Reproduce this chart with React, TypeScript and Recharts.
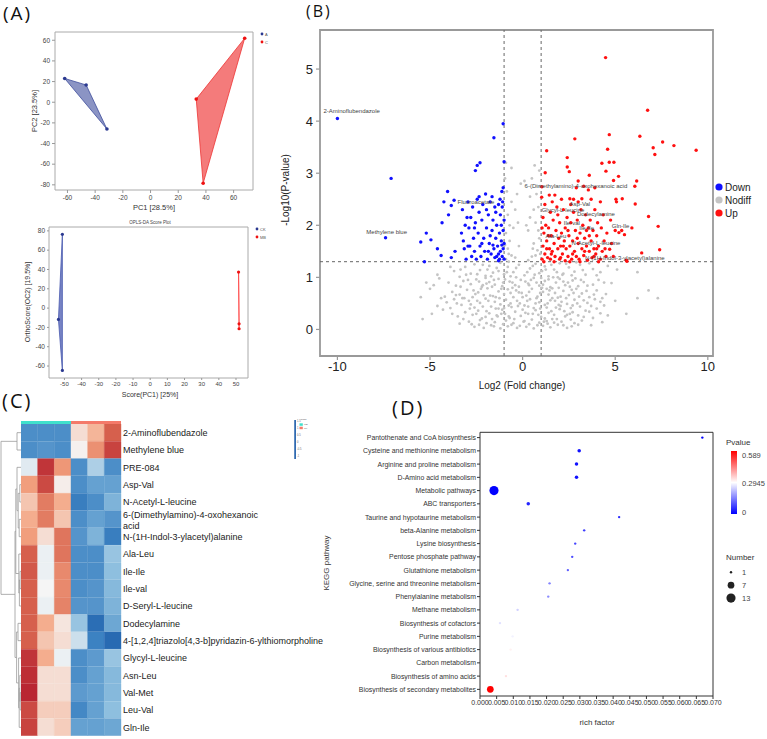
import React from "react";
import {
  ScatterChart,
  Scatter,
  XAxis,
  YAxis,
  ReferenceArea,
  ReferenceLine,
  BarChart,
  Bar,
  Cell,
  ZAxis,
} from "recharts";

const FONT = "'Liberation Sans', Arial, sans-serif";

// ---------- (A) PCA / OPLS-DA scores ----------
const pcaA = [
  { x: -62, y: 23 },
  { x: -46.5, y: 16.7 },
  { x: -31.5, y: -26 },
];
const pcaC = [
  { x: 33, y: 3 },
  { x: 38, y: -78.5 },
  { x: 68, y: 62 },
];
const oplsCK = [
  { x: -51.2, y: 76.4 },
  { x: -53.5, y: -11.7 },
  { x: -51.2, y: -64.6 },
];
const oplsMB = [
  { x: 51.5, y: 37.3 },
  { x: 51.8, y: -16.3 },
  { x: 51.8, y: -21.4 },
];
const pcaXTicks = [-60, -40, -20, 0, 20, 40, 60];
const pcaYTicks = [-80, -60, -40, -20, 0, 20, 40, 60];
const oplsXTicks = [-50, -40, -30, -20, -10, 0, 10, 20, 30, 40, 50];
const oplsYTicks = [-60, -40, -20, 0, 20, 40, 60, 80];

// ---------- (B) volcano: [log2FC, -log10 p] ----------
const downPts: number[][] = [
  [-10, 4.05], [-7.1, 2.9], [-7.4, 1.76], [-5.3, 1.3], [-5.5, 1.68], [-5.2, 1.85], [-4.95, 1.72],
  [-4.6, 1.55], [-4.4, 1.42], [-4.35, 2.05], [-4.25, 2.45], [-4.05, 2.65], [-4.0, 2.2], [-3.85, 1.38],
  [-3.85, 2.38], [-3.7, 2.48], [-3.65, 1.5], [-2.55, 3.05], [-2.45, 3.15], [-2.3, 3.2], [-1.55, 3.68],
  [-1.05, 3.95], [-1.0, 3.22], [-1.05, 2.72], [-1.12, 2.65],
  [-3.3, 1.85], [-3.25, 2.3], [-3.2, 1.7], [-3.15, 1.55], [-3.1, 2.0], [-3.05, 1.35], [-2.95, 2.45],
  [-2.9, 1.95], [-2.85, 1.6], [-2.8, 2.15], [-2.75, 1.4], [-2.7, 2.35], [-2.65, 1.75], [-2.6, 1.5],
  [-2.55, 2.05], [-2.5, 1.35], [-2.45, 2.5], [-2.4, 1.85], [-2.35, 2.25], [-2.3, 1.6], [-2.25, 1.4],
  [-2.2, 2.1], [-2.15, 2.4], [-2.1, 1.75], [-2.05, 1.5], [-2.0, 2.6], [-1.95, 1.95], [-1.9, 1.35],
  [-1.85, 2.2], [-1.8, 1.65], [-1.75, 2.45], [-1.7, 1.45], [-1.65, 1.9], [-1.6, 2.1], [-1.55, 1.55],
  [-1.5, 2.35], [-1.45, 1.75], [-1.4, 1.4], [-1.4, 2.0], [-1.35, 1.6], [-1.3, 2.4], [-1.3, 1.32],
  [-1.25, 1.85], [-1.2, 2.2], [-1.2, 1.5], [-1.15, 1.7], [-1.15, 2.0], [-1.1, 1.4], [-1.1, 2.35],
  [-1.05, 1.55], [-1.05, 1.9], [-1.0, 1.35], [-1.0, 2.1], [-1.0, 1.65], [-1.08, 2.45], [-1.3, 1.45],
  [-1.5, 1.38], [-1.6, 1.62], [-1.75, 1.8], [-1.95, 2.3], [-2.6, 1.95], [-2.95, 1.6], [-3.0, 2.15],
  [-2.2, 1.65], [-1.85, 1.5], [-1.45, 2.25], [-1.25, 1.35], [-1.12, 1.62], [-1.22, 2.5], [-1.65, 2.55],
  [-2.35, 2.55],
];
const upPts: number[][] = [
  [4.48, 5.22], [6.75, 4.21], [2.82, 3.66], [4.68, 3.74], [6.33, 3.71], [7.56, 3.6], [7.05, 3.49],
  [8.17, 3.53], [9.37, 3.44], [4.59, 3.46], [7.14, 3.36], [2.41, 3.3], [2.41, 3.12], [4.28, 3.19],
  [4.68, 3.21], [4.93, 3.21], [1.3, 3.43], [2.52, 3.03], [1.22, 3.01], [3.6, 2.96], [4.5, 3.04],
  [5.18, 2.94], [3.0, 2.85], [4.91, 2.86], [6.16, 2.85], [6.06, 2.75], [2.9, 2.72], [3.3, 2.75],
  [3.55, 2.68], [3.9, 2.72], [1.04, 2.74], [1.03, 2.54], [1.44, 2.58], [1.74, 2.58], [2.55, 2.51],
  [2.75, 2.5], [3.2, 2.51], [5.04, 2.5], [5.38, 2.51], [5.07, 2.45], [6.08, 2.41], [6.8, 2.17],
  [7.32, 1.98], [5.9, 1.95], [7.4, 1.53], [6.43, 1.47], [5.63, 1.31], [5.2, 1.86], [5.35, 1.9],
  [5.5, 1.82], [4.7, 1.54], [5.6, 1.33],
  [1.05, 1.35], [1.1, 1.6], [1.1, 2.15], [1.15, 1.85], [1.2, 1.45], [1.25, 2.0], [1.3, 1.7],
  [1.35, 1.38], [1.4, 1.95], [1.45, 1.55], [1.5, 2.25], [1.5, 1.35], [1.55, 1.8], [1.6, 1.5],
  [1.65, 2.1], [1.7, 1.65], [1.75, 1.4], [1.8, 1.9], [1.85, 2.35], [1.9, 1.55], [1.95, 1.75],
  [2.0, 1.35], [2.0, 2.05], [2.05, 1.6], [2.1, 1.85], [2.15, 1.45], [2.2, 2.3], [2.25, 1.7],
  [2.3, 1.32], [2.3, 1.95], [2.35, 1.55], [2.4, 2.15], [2.45, 1.4], [2.5, 1.8], [2.55, 1.6],
  [2.6, 2.05], [2.65, 1.35], [2.7, 1.7], [2.75, 2.25], [2.8, 1.5], [2.85, 1.9], [2.9, 1.4],
  [2.95, 2.1], [3.0, 1.65], [3.05, 1.35], [3.1, 1.85], [3.15, 2.3], [3.2, 1.55], [3.25, 2.0],
  [3.3, 1.42], [3.35, 1.75], [3.4, 2.2], [3.45, 1.6], [3.5, 1.33], [3.55, 1.95], [3.6, 1.5],
  [3.65, 2.1], [3.7, 1.7], [3.75, 1.38], [3.8, 1.9], [3.85, 1.55], [3.9, 2.3], [3.95, 1.45],
  [4.0, 1.8], [4.05, 2.05], [4.1, 1.6], [4.2, 1.35], [4.25, 1.95], [4.3, 1.5], [4.35, 2.2],
  [4.4, 1.7], [4.5, 1.4], [4.55, 1.85], [1.2, 2.4], [1.6, 2.45], [2.1, 2.5], [2.6, 2.4], [3.0, 2.45],
  [3.7, 2.5], [4.2, 2.45], [1.3, 1.55], [1.7, 1.3], [2.2, 1.6], [2.7, 1.45], [3.1, 1.3], [3.6, 1.8],
  [4.1, 1.3], [1.4, 1.8], [1.9, 2.2], [2.45, 1.9], [2.95, 1.75], [3.45, 1.9], [4.0, 1.55],
  [1.15, 1.3], [1.05, 1.95], [1.55, 1.45], [2.05, 1.38], [2.55, 1.3], [3.35, 1.5], [3.85, 1.4],
  [4.45, 1.55], [4.8, 1.65], [4.9, 1.4], [5.0, 1.9], [4.75, 2.1],
];
const nodiffPts: number[][] = [
  [-2.6, 0.05], [-2.1, 0.03], [-1.7, 0.08], [-1.2, 0.02], [-0.8, 0.06], [-0.3, 0.03], [0.2, 0.05],
  [0.6, 0.02], [1.1, 0.07], [1.5, 0.04], [1.9, 0.09], [2.4, 0.03], [2.8, 0.12], [-2.9, 0.15],
  [-2.3, 0.18], [-1.5, 0.14], [-0.9, 0.17], [-0.5, 0.12], [0.1, 0.16], [0.5, 0.19], [0.9, 0.13],
  [1.3, 0.16], [2.1, 0.15], [2.6, 0.19], [3.2, 0.17], [-3.4, 0.11], [-5.4, 0.2], [3.7, 0.08], [4.3, 0.14],
  [-3.5, 0.25], [-3.1, 0.33], [-2.7, 0.28], [-2.4, 0.36], [-2.0, 0.24], [-1.8, 0.31], [-1.4, 0.27],
  [-1.1, 0.38], [-0.7, 0.22], [-0.4, 0.34], [-0.1, 0.26], [0.3, 0.3], [0.7, 0.37], [1.0, 0.24],
  [1.4, 0.32], [1.7, 0.28], [2.0, 0.39], [2.3, 0.25], [2.7, 0.33], [3.0, 0.27], [3.4, 0.36],
  [3.8, 0.22], [4.2, 0.31], [-4.3, 0.38], [-4.9, 0.3], [4.6, 0.27], [5.6, 0.3], [-2.2, 0.21],
  [0.0, 0.38], [1.2, 0.21],
  [-4.6, 0.45], [-4.1, 0.52], [-3.7, 0.58], [-3.3, 0.47], [-2.9, 0.55], [-2.6, 0.42], [-2.3, 0.51],
  [-2.0, 0.59], [-1.7, 0.44], [-1.5, 0.53], [-1.2, 0.48], [-0.9, 0.57], [-0.6, 0.43], [-0.3, 0.55],
  [0.1, 0.46], [0.4, 0.58], [0.6, 0.41], [0.9, 0.52], [1.2, 0.47], [1.5, 0.56], [1.8, 0.42],
  [2.1, 0.53], [2.4, 0.49], [2.8, 0.57], [3.1, 0.44], [3.5, 0.51], [3.9, 0.58], [4.4, 0.46],
  [5.0, 0.55], [-3.9, 0.41], [-1.0, 0.41], [2.6, 0.41],
  [-5.0, 0.78], [-4.2, 0.63], [-3.8, 0.72], [-3.4, 0.67], [-3.0, 0.76], [-2.7, 0.62], [-2.4, 0.71],
  [-2.1, 0.66], [-1.9, 0.79], [-1.6, 0.64], [-1.3, 0.73], [-1.0, 0.68], [-0.8, 0.77], [-0.5, 0.62],
  [-0.2, 0.71], [0.2, 0.65], [0.5, 0.78], [0.8, 0.63], [1.1, 0.72], [1.4, 0.67], [1.6, 0.79],
  [1.9, 0.61], [2.2, 0.74], [2.5, 0.66], [2.9, 0.78], [3.2, 0.69], [3.6, 0.62], [4.0, 0.75],
  [4.5, 0.68], [6.8, 0.75], [7.3, 0.6], [6.2, 0.6], [-5.5, 0.62],
  [-5.2, 0.9], [-4.5, 0.98], [-3.6, 0.84], [-3.2, 0.93], [-2.8, 0.87], [-2.5, 0.96], [-2.2, 0.82],
  [-1.8, 0.91], [-1.5, 0.86], [-1.3, 0.97], [-1.1, 0.83], [-0.7, 0.92], [-0.4, 0.85], [-0.1, 0.95],
  [0.3, 0.88], [0.6, 0.99], [0.9, 0.84], [1.2, 0.93], [1.5, 0.81], [1.8, 0.9], [2.0, 0.97],
  [2.3, 0.85], [2.7, 0.94], [3.0, 0.83], [3.3, 0.91], [3.8, 0.86], [4.1, 0.95], [4.8, 0.89],
  [-2.0, 0.99], [1.0, 0.99],
  [-4.6, 1.05], [-3.7, 1.12], [-3.1, 1.2], [-2.8, 1.07], [-2.6, 1.25], [-2.3, 1.14], [-2.0, 1.03],
  [-1.8, 1.22], [-1.6, 1.09], [-1.4, 1.18], [-1.2, 1.28], [-1.0, 1.06], [-0.8, 1.2], [-0.5, 1.1],
  [-0.2, 1.24], [0.1, 1.04], [0.4, 1.17], [0.7, 1.26], [0.9, 1.08], [1.2, 1.21], [1.4, 1.02],
  [1.7, 1.15], [2.0, 1.27], [2.2, 1.07], [2.5, 1.19], [2.8, 1.11], [3.1, 1.24], [3.4, 1.05],
  [3.8, 1.16], [4.2, 1.1], [4.6, 1.22], [6.2, 1.1], [-3.4, 1.01], [1.9, 1.0], [2.9, 1.29],
  [-0.9, 1.35], [-0.6, 1.42], [-0.8, 1.55], [-0.4, 1.38], [0.5, 1.4], [0.8, 1.52], [0.3, 1.33],
  [-0.7, 1.7], [-0.9, 1.85], [0.9, 1.75], [0.6, 1.65], [-0.5, 1.95], [0.7, 2.05], [-0.8, 2.2],
  [0.85, 2.35], [-0.6, 2.45], [0.4, 2.55], [-0.3, 2.6], [0.1, 2.85], [-0.1, 2.8], [0.5, 2.9],
  [-0.9, 3.2], [-0.6, 3.1], [0.2, 2.0], [-0.2, 1.6], [0.9, 3.05], [0.3, 1.9], [-0.4, 2.3],
  [0.6, 2.3], [0.95, 1.45],
  [-2.45, 0.55], [-2.15, 0.85], [-1.95, 0.35], [-1.75, 0.65], [-1.55, 0.95], [-1.35, 0.25],
  [-1.25, 0.6], [-1.05, 0.9], [-0.95, 0.3], [-0.85, 1.1], [-0.65, 0.5], [-0.55, 0.8], [-0.35, 1.0],
  [-0.25, 0.45], [-0.05, 0.7], [0.05, 0.15], [0.25, 0.55], [0.35, 0.85], [0.55, 0.3], [0.65, 1.05],
  [0.75, 0.6], [0.95, 0.4], [1.05, 0.8], [1.15, 0.15], [1.25, 1.15], [1.35, 0.5], [1.45, 0.75],
  [1.55, 0.35], [1.65, 1.0], [1.75, 0.55], [1.85, 0.2], [1.95, 0.8], [2.05, 0.45], [2.15, 1.05],
  [2.35, 0.6], [2.45, 0.9], [2.55, 0.3], [2.75, 0.7], [2.95, 0.5], [3.15, 0.95], [-2.65, 0.75],
  [-2.85, 0.4], [-3.05, 1.05], [-3.25, 0.6], [-1.45, 0.4], [-0.75, 0.25], [0.45, 0.95], [1.6, 0.6],
  [2.25, 0.35], [-1.9, 1.15],
  [-2.75, 0.1], [-2.35, 0.09], [-1.95, 0.12], [-1.55, 0.06], [-1.05, 0.1], [-0.6, 0.09], [-0.15, 0.07],
  [0.35, 0.1], [0.8, 0.08], [1.35, 0.11], [1.7, 0.13], [2.2, 0.08], [2.65, 0.06], [3.0, 0.09],
  [-3.2, 0.2], [-2.5, 0.3], [-1.65, 0.2], [-1.15, 0.3], [-0.45, 0.2], [0.15, 0.32], [0.85, 0.28],
  [1.6, 0.2], [2.4, 0.28], [3.3, 0.24], [3.6, 0.34], [-3.8, 0.3], [4.0, 0.4], [-4.4, 0.6],
  [-3.55, 0.5], [-2.8, 0.48], [-2.15, 0.44], [-1.85, 0.55], [-1.3, 0.4], [-0.75, 0.46], [-0.15, 0.5],
  [0.3, 0.44], [0.7, 0.5], [1.3, 0.42], [1.95, 0.47], [2.7, 0.46], [3.3, 0.56], [3.7, 0.45],
  [4.2, 0.53], [-3.6, 0.66], [-3.15, 0.6], [-2.55, 0.68], [-2.25, 0.78], [-1.45, 0.62], [-1.15, 0.78],
  [-0.65, 0.7], [-0.35, 0.75], [0.0, 0.62], [0.35, 0.72], [0.95, 0.7], [1.3, 0.78], [1.75, 0.7],
  [2.05, 0.63], [2.65, 0.76], [3.05, 0.63], [3.45, 0.74], [3.85, 0.67], [4.3, 0.6], [-4.8, 0.85],
  [-4.0, 0.9], [-3.35, 0.82], [-2.95, 0.95], [-2.35, 0.92], [-1.95, 0.88], [-1.65, 0.82],
  [-0.95, 0.96], [-0.55, 0.9], [-0.2, 0.82], [0.15, 0.92], [0.75, 0.9], [1.1, 0.86], [1.4, 0.96],
  [2.2, 0.92], [2.55, 0.82], [2.85, 0.98], [3.5, 0.84], [4.4, 0.9], [-3.9, 1.2], [-3.35, 1.15],
  [-2.45, 1.06], [-2.15, 1.24], [-1.7, 1.02], [-1.3, 1.12], [-0.65, 1.02], [-0.35, 1.18],
  [0.25, 1.1], [0.55, 1.22], [1.05, 1.12], [1.55, 1.24], [1.85, 1.1], [2.35, 1.26], [2.65, 1.04],
  [3.25, 1.14], [3.6, 1.27], [4.0, 1.04], [5.1, 1.15], [-0.75, 1.45], [-0.95, 1.62], [0.7, 1.42],
  [0.85, 1.9], [-0.7, 2.0], [0.75, 2.6], [-0.85, 2.65], [0.4, 2.15], [-0.25, 2.05], [0.95, 2.75],
  [-0.95, 2.9], [0.65, 3.15], [-0.75, 1.3], [0.55, 1.55],
];
// where each metabolite name is written
const volcanoLabels = [
  { name: "2-Aminoflubendazole", x: -9.23, y: 4.19 },
  { name: "Methylene blue", x: -7.34, y: 1.87 },
  { name: "Fluoroacetate", x: -2.52, y: 2.44 },
  { name: "6-(Dimethylamino)-4-oxohexanoic acid", x: 2.88, y: 2.76 },
  { name: "Asp-Val", x: 3.09, y: 2.4 },
  { name: "Glycyl-L-leucine", x: 2.18, y: 2.29 },
  { name: "Dodecylamine", x: 3.96, y: 2.21 },
  { name: "Ile-val", x: 2.66, y: 2.05 },
  { name: "Ile-Ile", x: 3.46, y: 1.94 },
  { name: "Gln-Ile", x: 5.29, y: 1.98 },
  { name: "Ala-Leu", x: 1.8, y: 1.8 },
  { name: "N-Acetyl-L-leucine", x: 3.96, y: 1.66 },
  { name: "N-(1H-Indol-3-ylacetyl)alanine", x: 5.52, y: 1.38 },
];
const volcanoXTicks = [-10, -5, 0, 5, 10];
const volcanoYTicks = [0, 1, 2, 3, 4, 5];

// ---------- (C) heatmap ----------
const heatRows = [
  "2-Aminoflubendazole",
  "Methylene blue",
  "PRE-084",
  "Asp-Val",
  "N-Acetyl-L-leucine",
  "6-(Dimethylamino)-4-oxohexanoic acid",
  "N-(1H-Indol-3-ylacetyl)alanine",
  "Ala-Leu",
  "Ile-Ile",
  "Ile-val",
  "D-Seryl-L-leucine",
  "Dodecylamine",
  "4-[1,2,4]triazolo[4,3-b]pyridazin-6-ylthiomorpholine",
  "Glycyl-L-leucine",
  "Asn-Leu",
  "Val-Met",
  "Leu-Val",
  "Gln-Ile",
];
const heatValues = [
  [-0.9, -0.9, -0.9, 0.15, 0.4, 1.0],
  [-0.9, -0.85, -0.9, 0.03, 0.65, 1.2],
  [-0.1, 1.3, 0.6, -0.9, -0.35, -0.9],
  [0.55, 1.15, 0.05, -0.9, -0.75, -0.75],
  [0.3, 0.8, 0.45, -1.05, -0.9, -0.6],
  [0.45, 0.8, 0.3, -0.9, -0.75, -0.85],
  [0.55, 0.15, 0.85, -0.85, -0.6, -1.05],
  [1.0, -0.05, 0.85, -0.9, -0.9, -0.45],
  [1.05, -0.05, 0.7, -0.9, -0.9, -0.5],
  [1.0, 0.0, 0.7, -0.9, -0.85, -0.55],
  [1.0, -0.05, 0.75, -0.85, -0.85, -0.6],
  [1.0, 0.45, 0.1, -0.45, -1.25, -0.7],
  [1.0, 0.3, 0.15, -0.2, -1.0, -1.3],
  [1.3, 0.45, -0.05, -0.9, -0.8, -0.45],
  [1.35, 0.15, 0.15, -0.9, -0.75, -0.55],
  [1.4, 0.15, 0.15, -0.8, -0.75, -0.55],
  [1.15, 0.25, 0.25, -0.95, -0.75, -0.5],
  [1.2, 0.15, 0.25, -0.75, -0.75, -0.7],
];
const classGroups = [
  { name: "MB", color: "#40e0cc" },
  { name: "CK", color: "#f47a6a" },
];
// row clustering: [left, right, height]; ids >= 18 point to earlier merges
const rowMerges = [
  [0, 1, 2.0], [3, 4, 0.6], [8, 9, 0.5], [20, 10, 0.8], [7, 21, 1.1], [5, 6, 0.9], [19, 23, 1.4],
  [2, 24, 2.0], [25, 22, 2.6], [11, 12, 1.5], [15, 16, 0.4], [14, 28, 0.6], [29, 17, 0.9],
  [13, 30, 1.2], [27, 31, 2.2], [26, 32, 3.0], [18, 33, 10],
];

// ---------- (D) KEGG enrichment ----------
const pathways = [
  "Pantothenate and CoA biosynthesis",
  "Cysteine and methionine metabolism",
  "Arginine and proline metabolism",
  "D-Amino acid metabolism",
  "Metabolic pathways",
  "ABC transporters",
  "Taurine and hypotaurine metabolism",
  "beta-Alanine metabolism",
  "Lysine biosynthesis",
  "Pentose phosphate pathway",
  "Glutathione metabolism",
  "Glycine, serine and threonine metabolism",
  "Phenylalanine metabolism",
  "Methane metabolism",
  "Biosynthesis of cofactors",
  "Purine metabolism",
  "Biosynthesis of various antibiotics",
  "Carbon metabolism",
  "Biosynthesis of amino acids",
  "Biosynthesis of secondary metabolites",
];
const richFactor = [
  0.0668, 0.0298, 0.029, 0.029, 0.0042, 0.0145, 0.0418, 0.0313, 0.0286, 0.0277, 0.0264, 0.0209,
  0.0205, 0.0113, 0.006, 0.0098, 0.0092, 0.0088, 0.0078, 0.0031,
];
const hitCount = [1, 2, 2, 2, 13, 2, 1, 1, 1, 1, 1, 1, 1, 1, 1, 1, 1, 1, 1, 7];
const pValue = [
  0.004, 0.02, 0.02, 0.02, 0.001, 0.04, 0.05, 0.07, 0.08, 0.09, 0.11, 0.15, 0.16, 0.24, 0.26,
  0.28, 0.31, 0.2945, 0.33, 0.589,
];
const richTicks = [
  0, 0.005, 0.01, 0.015, 0.02, 0.025, 0.03, 0.035, 0.04, 0.045, 0.05, 0.055, 0.06, 0.065, 0.07,
];

// ---------- helpers ----------
const toPts = (arr: number[][]) => arr.map(([x, y]) => ({ x, y }));

const dot = (fill: string, r: number) => (p: any) =>
  <circle cx={p.cx} cy={p.cy} r={r} fill={fill} />;

// filled hull through the scatter points (Scatter passes pixel points to `line`)
const hull = (fill: string, opacity: number, stroke: string) => (props: any) => {
  const pts = props.points || [];
  return (
    <polygon
      points={pts.map((p: any) => `${p.x},${p.y}`).join(" ")}
      fill={fill}
      fillOpacity={opacity}
      stroke={stroke}
      strokeWidth={0.8}
    />
  );
};

const heatStops: [number, number[]][] = [
  [-1.5, [26, 90, 168]],
  [-1, [60, 130, 194]],
  [-0.5, [142, 191, 223]],
  [0, [245, 245, 245]],
  [0.5, [244, 165, 130]],
  [1, [214, 96, 77]],
  [1.5, [178, 24, 43]],
];
function heatColor(v: number) {
  const c = Math.max(-1.5, Math.min(1.5, v));
  for (let i = 0; i < heatStops.length - 1; i++) {
    const [a, ca] = heatStops[i];
    const [b, cb] = heatStops[i + 1];
    if (c >= a && c <= b) {
      const t = (c - a) / (b - a);
      const m = ca.map((k, j) => Math.round(k + (cb[j] - k) * t));
      return `rgb(${m[0]},${m[1]},${m[2]})`;
    }
  }
  return "#f5f5f5";
}

function pColor(p: number) {
  const mid = 0.2945;
  if (p <= mid) {
    const t = p / mid;
    const k = Math.round(255 * t);
    return `rgb(${k},${k},255)`;
  }
  const t = Math.min(1, (p - mid) / mid);
  const k = Math.round(255 * (1 - t));
  return `rgb(255,${k},${k})`;
}

const heatData = heatRows.map((name, i) => ({
  name,
  s0: 1, s1: 1, s2: 1, s3: 1, s4: 1, s5: 1,
  vals: heatValues[i],
}));

function dendroSegments() {
  const pos = heatRows.map((_, i) => ({ y: i + 0.5, h: 0 }));
  const segs: { x1: number; y1: number; x2: number; y2: number }[] = [];
  rowMerges.forEach(([a, b, h]) => {
    const A = pos[a];
    const B = pos[b];
    segs.push({ x1: A.h, y1: A.y, x2: h, y2: A.y });
    segs.push({ x1: B.h, y1: B.y, x2: h, y2: B.y });
    segs.push({ x1: h, y1: A.y, x2: h, y2: B.y });
    pos.push({ y: (A.y + B.y) / 2, h });
  });
  return segs;
}

const keggData = pathways.map((name, i) => ({
  name,
  idx: i,
  rf: richFactor[i],
  count: hitCount[i],
  p: pValue[i],
}));

const RowTick = ({ x, y, payload }: any) => {
  const s: string = payload.value;
  let lines = [s];
  if (s.length > 25 && s.includes(" ")) {
    const k = s.lastIndexOf(" ");
    lines = [s.slice(0, k), s.slice(k + 1)];
  }
  return (
    <text x={x} y={y} fontSize={9} fill="#222" fontFamily={FONT}>
      {lines.map((l, i) => (
        <tspan key={i} x={x} dy={i === 0 ? (lines.length > 1 ? -1.8 : 3.2) : 11}>
          {l}
        </tspan>
      ))}
    </text>
  );
};

const PathTick = ({ x, y, payload }: any) => (
  <text x={x} y={y} dy={2.5} textAnchor="end" fontSize={6.9} fill="#333" fontFamily={FONT}>
    {pathways[payload.value]}
  </text>
);

const smallTick = (size: number, fill = "#444") => ({ fontSize: size, fill, fontFamily: FONT });

// ---------- charts ----------
function PcaChart() {
  return (
    <ScatterChart width={290} height={215} margin={{ top: 32, right: 37, bottom: 0, left: 0 }}>
      <XAxis type="number" dataKey="x" domain={[-69, 74]} ticks={pcaXTicks} allowDataOverflow
        height={25} tick={smallTick(6.5)} tickSize={3} tickMargin={2} axisLine={false}
        tickLine={{ stroke: "#999" }} />
      <YAxis type="number" dataKey="y" domain={[-85, 68]} ticks={pcaYTicks} allowDataOverflow
        width={55} tick={smallTick(6.5)} tickSize={3} tickMargin={2} axisLine={false}
        tickLine={{ stroke: "#999" }} />
      <ReferenceArea x1={-69} x2={74} y1={-85} y2={68} fill="none" stroke="#aaa" strokeWidth={1} />
      <Scatter data={pcaA} line={hull("#3d4c9c", 0.6, "#3d4c9c")} shape={dot("#2b3990", 1.8)}
        isAnimationActive={false} />
      <Scatter data={pcaC} line={hull("#ee3434", 0.65, "#ee3434")} shape={dot("#ee1111", 1.8)}
        isAnimationActive={false} />
    </ScatterChart>
  );
}

function OplsChart() {
  return (
    <ScatterChart width={290} height={183} margin={{ top: 12, right: 42, bottom: 0, left: 0 }}>
      <XAxis type="number" dataKey="x" domain={[-59, 57]} ticks={oplsXTicks} allowDataOverflow
        height={20} tick={smallTick(6)} tickSize={2} tickMargin={2} axisLine={false}
        tickLine={{ stroke: "#999" }} interval={0} />
      <YAxis type="number" dataKey="y" domain={[-72.4, 84]} ticks={oplsYTicks} allowDataOverflow
        width={49} tick={smallTick(6.5)} tickSize={2} tickMargin={2} axisLine={false}
        tickLine={{ stroke: "#999" }} />
      <ReferenceArea x1={-59} x2={57} y1={-72.4} y2={84} fill="none" stroke="#aaa" strokeWidth={1} />
      <Scatter data={oplsCK} line={hull("#4a5ab0", 0.75, "#4a5ab0")} shape={dot("#2b3990", 1.6)}
        isAnimationActive={false} />
      <Scatter data={oplsMB} line={hull("#ff5555", 0.8, "#ff4444")} shape={dot("#ee1111", 1.6)}
        isAnimationActive={false} />
    </ScatterChart>
  );
}

const labelShape = (p: any) => (
  <text x={p.cx} y={p.cy} fontSize={6} fill="#444" textAnchor="middle" dominantBaseline="central"
    fontFamily={FONT}>
    {p.payload.name}
  </text>
);

function VolcanoChart() {
  const axisTick = { fontSize: 13, fill: "#222", fontFamily: FONT };
  return (
    <ScatterChart width={470} height={381} margin={{ top: 30, right: 37, bottom: 0, left: 0 }}>
      <XAxis type="number" dataKey="x" domain={[-10.94, 10.28]} ticks={volcanoXTicks} allowDataOverflow
        height={25} tick={axisTick} tickSize={4} tickMargin={2} axisLine={false}
        tickLine={{ stroke: "#999", strokeWidth: 1.2 }} />
      <YAxis type="number" dataKey="y" domain={[-0.51, 5.75]} ticks={volcanoYTicks} allowDataOverflow
        width={40} tick={axisTick} tickSize={4} tickMargin={3} axisLine={false}
        tickLine={{ stroke: "#999", strokeWidth: 1.2 }} />
      <Scatter data={toPts(nodiffPts)} shape={dot("#c4c4c4", 1.4)} isAnimationActive={false} />
      <Scatter data={toPts(downPts)} shape={dot("#1010ff", 1.7)} isAnimationActive={false} />
      <Scatter data={toPts(upPts)} shape={dot("#ff1010", 1.7)} isAnimationActive={false} />
      <ReferenceLine x={-1} stroke="#666" strokeDasharray="3 3" />
      <ReferenceLine x={1} stroke="#666" strokeDasharray="3 3" />
      <ReferenceLine y={1.301} stroke="#666" strokeDasharray="3 3" />
      <Scatter data={volcanoLabels} shape={labelShape} isAnimationActive={false} />
      <ReferenceArea x1={-10.94} x2={10.28} y1={-0.51} y2={5.75} fill="none" stroke="#999"
        strokeWidth={1.8} />
    </ScatterChart>
  );
}

function HeatmapChart() {
  return (
    <BarChart width={360} height={312} data={heatData} layout="vertical" barCategoryGap={0}
      margin={{ top: 0, right: 0, bottom: 0, left: 0 }}>
      <XAxis type="number" domain={[0, 6]} hide />
      <YAxis type="category" dataKey="name" orientation="right" width={260} axisLine={false}
        tickLine={false} tickSize={0} tickMargin={2} interval={0} tick={<RowTick />} />
      {[0, 1, 2, 3, 4, 5].map((c) => (
        <Bar key={c} dataKey={`s${c}`} stackId="h" isAnimationActive={false}>
          {heatData.map((row, i) => (
            <Cell key={i} fill={heatColor(row.vals[c])} stroke={heatColor(row.vals[c])}
              strokeWidth={0.4} />
          ))}
        </Bar>
      ))}
    </BarChart>
  );
}

function ClassBar() {
  const data = [{ name: "Class", MB: 3, CK: 3 }];
  return (
    <BarChart width={100} height={3} data={data} layout="vertical" barCategoryGap={0}
      margin={{ top: 0, right: 0, bottom: 0, left: 0 }}>
      <XAxis type="number" domain={[0, 6]} hide />
      <YAxis type="category" dataKey="name" hide />
      {classGroups.map((g) => (
        <Bar key={g.name} dataKey={g.name} stackId="c" fill={g.color} isAnimationActive={false} />
      ))}
    </BarChart>
  );
}

function Dendrogram() {
  const leaves = heatRows.map((_, i) => ({ h: 0, y: i + 0.5 }));
  return (
    <ScatterChart width={21} height={312} margin={{ top: 0, right: 0, bottom: 0, left: 0 }}>
      <XAxis type="number" dataKey="h" domain={[0, 10.5]} reversed hide allowDataOverflow />
      <YAxis type="number" dataKey="y" domain={[0, 18]} reversed hide allowDataOverflow />
      <Scatter data={leaves} shape={() => <g />} isAnimationActive={false} />
      {dendroSegments().map((s, i) => (
        <ReferenceLine key={i} segment={[{ x: s.x1, y: s.y1 }, { x: s.x2, y: s.y2 }]}
          stroke="#9a9a9a" strokeWidth={0.8} ifOverflow="visible" />
      ))}
    </ScatterChart>
  );
}

const keggShape = (p: any) => {
  const r = typeof p.size === "number" ? Math.sqrt(p.size / Math.PI) : (p.width || 3) / 2;
  return <circle cx={p.cx} cy={p.cy} r={r} fill={pColor(p.payload.p)} />;
};

function KeggChart() {
  return (
    <ScatterChart width={395} height={296} margin={{ top: 12.3, right: 12, bottom: 0, left: 0 }}>
      <XAxis type="number" dataKey="rf" domain={[0, 0.07]} ticks={richTicks} allowDataOverflow
        interval={0} height={20} tickFormatter={(v: number) => v.toFixed(3)} tick={smallTick(7, "#333")}
        tickSize={3} tickMargin={1} axisLine={false} tickLine={{ stroke: "#333" }} />
      <YAxis type="number" dataKey="idx" domain={[-0.4, 19.5]} reversed allowDataOverflow
        ticks={pathways.map((_, i) => i)} interval={0} width={150} tick={<PathTick />}
        tickSize={3} tickMargin={1} axisLine={false} tickLine={{ stroke: "#333" }} />
      <ZAxis type="number" dataKey="count" domain={[1, 13]} range={[4.5, 66]} />
      <Scatter data={keggData} shape={keggShape} isAnimationActive={false} />
      <ReferenceArea x1={0} x2={0.07} y1={-0.4} y2={19.5} fill="none" stroke="#333" strokeWidth={1} />
    </ScatterChart>
  );
}

// ---------- page ----------
function Overlay() {
  const heatLegendTicks = [1.5, 1, 0.5, 0, -0.5, -1];
  const hTop = 1.55;
  const hBot = -1.2;
  const hy = (v: number) => 420 + ((hTop - v) / (hTop - hBot)) * 39;
  return (
    <svg width={767} height={739} style={{ position: "absolute", left: 0, top: 0, pointerEvents: "none" }}
      fontFamily={FONT}>
      <defs>
        <linearGradient id="heatGrad" x1="0" y1="0" x2="0" y2="1">
          {heatStops
            .filter(([v]) => v <= hTop && v >= hBot - 0.5)
            .map(([v]) => (
              <stop key={v} offset={Math.max(0, Math.min(1, (hTop - v) / (hTop - hBot)))}
                stopColor={heatColor(v)} />
            ))}
        </linearGradient>
        <linearGradient id="pGrad" x1="0" y1="0" x2="0" y2="1">
          <stop offset="0" stopColor="#ff0000" />
          <stop offset="0.5" stopColor="#ffffff" />
          <stop offset="1" stopColor="#0000ff" />
        </linearGradient>
      </defs>

      {/* panel tags */}
      <g fontFamily="'Open Sans', 'Noto Sans', sans-serif" fill="#111">
        <text x={3} y={20} fontSize={19} letterSpacing={2}>(A)</text>
        <text x={306} y={17} fontSize={16} letterSpacing={2}>(B)</text>
        <text x={2} y={408} fontSize={20} letterSpacing={2}>(C)</text>
        <text x={392} y={415} fontSize={20} letterSpacing={2}>(D)</text>
      </g>

      {/* (A) titles and legends */}
      <text x={154} y={210} fontSize={7.5} fill="#333" textAnchor="middle">PC1 [28.5%]</text>
      <text x={37} y={111} fontSize={7.5} fill="#333" textAnchor="middle" transform="rotate(-90 37 111)">
        PC2 [23.5%]
      </text>
      <circle cx={262} cy={34} r={1.4} fill="#2b3990" />
      <text x={265} y={35.5} fontSize={4} fill="#555">A</text>
      <circle cx={262} cy={42} r={1.4} fill="#ee1111" />
      <text x={265} y={43.5} fontSize={4} fill="#555">C</text>

      <text x={150} y={223.5} fontSize={4.5} fill="#444" textAnchor="middle">OPLS-DA Score Plot</text>
      <text x={150} y={397} fontSize={7} fill="#333" textAnchor="middle">Score(PC1) [25%]</text>
      <text x={30} y={302} fontSize={7} fill="#333" textAnchor="middle" transform="rotate(-90 30 302)">
        OrthoScore(OC2) [19.5%]
      </text>
      <circle cx={257} cy={229} r={1.4} fill="#2b3990" />
      <text x={260} y={230.5} fontSize={4} fill="#555">CK</text>
      <circle cx={257} cy={237} r={1.4} fill="#ee1111" />
      <text x={260} y={238.5} fontSize={4} fill="#555">MB</text>

      {/* (B) titles and legend */}
      <text x={522} y={389} fontSize={10} fill="#222" textAnchor="middle">Log2 (Fold change)</text>
      <text x={289} y={190} fontSize={10} fill="#222" textAnchor="middle" transform="rotate(-90 289 190)">
        -Log10(P-value)
      </text>
      <circle cx={719} cy={187} r={3.6} fill="#1010ff" />
      <text x={725} y={190.5} fontSize={10} fill="#222">Down</text>
      <circle cx={719} cy={200} r={3.6} fill="#c4c4c4" />
      <text x={725} y={203.5} fontSize={10} fill="#222">Nodiff</text>
      <circle cx={719} cy={213} r={3.6} fill="#ff1010" />
      <text x={725} y={216.5} fontSize={10} fill="#222">Up</text>

      {/* (C) legends */}
      <rect x={294.3} y={420} width={1.6} height={39} fill="url(#heatGrad)" />
      {heatLegendTicks.map((v) => (
        <text key={v} x={297} y={hy(v) + 1} fontSize={2.6} fill="#666">{v}</text>
      ))}
      <text x={300.5} y={420.2} fontSize={2.4} fill="#666">Class</text>
      {classGroups.map((g, i) => (
        <g key={g.name}>
          <rect x={299.5} y={423.3 + i * 3.4} width={3.3} height={2.5} fill={g.color} />
          <text x={304} y={425.4 + i * 3.4} fontSize={2.4} fill="#666">{g.name}</text>
        </g>
      ))}

      {/* (D) titles and legends */}
      <text x={597} y={725} fontSize={8} fill="#333" textAnchor="middle">rich factor</text>
      <text x={329} y={563} fontSize={8} fill="#333" textAnchor="middle" transform="rotate(-90 329 563)">
        KEGG pathway
      </text>
      <text x={726} y={445} fontSize={8} fill="#333">Pvalue</text>
      <rect x={731} y={451} width={6} height={63} fill="url(#pGrad)" />
      <text x={742} y={457.5} fontSize={7.5} fill="#444">0.589</text>
      <text x={742} y={486} fontSize={7.5} fill="#444">0.2945</text>
      <text x={742} y={515} fontSize={7.5} fill="#444">0</text>
      <text x={726} y={559.5} fontSize={8} fill="#333">Number</text>
      {[1, 7, 13].map((n, i) => {
        const area = 4.5 + ((n - 1) / 12) * (66 - 4.5);
        const cy = 572.3 + i * 12.9;
        return (
          <g key={n}>
            <circle cx={731} cy={cy} r={Math.sqrt(area / Math.PI)} fill="#222" />
            <text x={742} y={cy + 2.6} fontSize={7.5} fill="#444">{n}</text>
          </g>
        );
      })}
    </svg>
  );
}

export default function App() {
  return (
    <div style={{ position: "absolute", left: 0, top: 0, width: 767, height: 739, background: "#fff",
      overflow: "hidden", fontFamily: FONT }}>
      <div style={{ position: "absolute", left: 0, top: 0 }}><PcaChart /></div>
      <div style={{ position: "absolute", left: 0, top: 215 }}><OplsChart /></div>
      <div style={{ position: "absolute", left: 280, top: 0 }}><VolcanoChart /></div>
      <div style={{ position: "absolute", left: 0, top: 424 }}><Dendrogram /></div>
      <div style={{ position: "absolute", left: 21, top: 420.5 }}><ClassBar /></div>
      <div style={{ position: "absolute", left: 21, top: 424 }}><HeatmapChart /></div>
      <div style={{ position: "absolute", left: 330, top: 420 }}><KeggChart /></div>
      <Overlay />
    </div>
  );
}
